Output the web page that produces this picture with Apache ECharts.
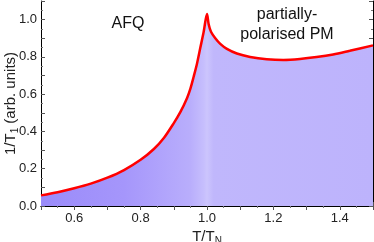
<!DOCTYPE html>
<html>
<head>
<meta charset="utf-8">
<script src="https://cdn.jsdelivr.net/npm/echarts@6/dist/echarts.min.js"></script>
<style>
html,body{margin:0;padding:0;background:#fff;}
#c{width:374px;height:242px;}
</style>
</head>
<body>
<div id="c"></div>
<script>
// T/T_N values and relaxation rate 1/T1 (arb. units)
const tRatio = [0.50,0.55,0.60,0.65,0.70,0.75,0.80,0.84,0.87,0.90,0.92,0.94,0.95,0.96,0.97,0.98,0.99,1.000,1.005,1.012,1.025,1.04,1.06,1.09,1.13,1.18,1.23,1.28,1.33,1.38,1.43,1.50];
const rate   = [0.057,0.074,0.095,0.120,0.152,0.193,0.248,0.306,0.365,0.445,0.505,0.58,0.63,0.695,0.765,0.850,0.935,1.030,0.975,0.935,0.900,0.870,0.843,0.818,0.800,0.788,0.784,0.789,0.799,0.813,0.833,0.862];
const xTickLabels = [0.6,0.8,1.0,1.2,1.4];
const yTickLabels = [0.0,0.2,0.4,0.6,0.8,1.0];
const regionLabels = ['AFQ','partially-','polarised PM'];

const font = 'Liberation Sans, Arial, sans-serif';
const chart = echarts.init(document.getElementById('c'), null, {renderer:'canvas'});
const axisCommon = {
  axisLine:{show:true,lineStyle:{color:'#000',width:1}},
  axisTick:{show:true,inside:true,length:4,lineStyle:{color:'#555'}},
  minorTick:{show:true,splitNumber:2,length:2,lineStyle:{color:'#777'}},
  splitLine:{show:false}
};
chart.setOption({
  animation:false,
  grid:{left:41,right:1,top:1,bottom:36,containLabel:false,outerBoundsMode:'none'},
  xAxis:[
    Object.assign({type:'value',min:0.5,max:1.5,interval:0.1,position:'bottom',
      name:'T/T{sub|N}',nameLocation:'middle',nameGap:21,nameMoveOverlap:false,
      nameTextStyle:{fontFamily:font,fontSize:15,color:'#222',rich:{sub:{fontFamily:font,fontSize:10,color:'#222',padding:[9,0,0,0]}}},
      axisLabel:{customValues:xTickLabels,fontFamily:font,fontSize:13,color:'#222',margin:6,formatter:v=>v.toFixed(1)}},axisCommon),
    Object.assign({type:'value',min:0.5,max:1.5,interval:0.1,position:'top',axisLabel:{show:false}},axisCommon)
  ],
  yAxis:[
    Object.assign({type:'value',min:0,max:1.1,interval:0.1,position:'left',
      name:'1/T{sub|1} (arb. units)',nameLocation:'middle',nameGap:21,nameMoveOverlap:false,
      nameTextStyle:{fontFamily:font,fontSize:15,color:'#222',rich:{sub:{fontFamily:font,fontSize:10,color:'#222',padding:[9,0,0,0]}}},
      axisLabel:{customValues:yTickLabels,fontFamily:font,fontSize:13,color:'#222',margin:4,formatter:v=>v.toFixed(1)}},axisCommon),
    Object.assign({type:'value',min:0,max:1.1,interval:0.1,position:'right',axisLabel:{show:false}},axisCommon)
  ],
  series:[{
    type:'line',
    data:tRatio.map((t,i)=>[t,rate[i]]),
    showSymbol:false,
    smooth:0.3,
    lineStyle:{color:'#ff0000',width:2.5},
    areaStyle:{opacity:1,color:new echarts.graphic.LinearGradient(0,0,1,0,[
      {offset:0,color:'#9a8bfa'},
      {offset:0.25,color:'#a596fb'},
      {offset:0.45,color:'#b9aefc'},
      {offset:0.49,color:'#c6befd'},
      {offset:0.5,color:'#ccc5fd'},
      {offset:0.52,color:'#c0b7fc'},
      {offset:1,color:'#bdb3fc'}
    ])},
    z:2
  }],
  graphic:[
    {type:'text',x:128,y:24,style:{text:regionLabels[0],font:'16px '+font,fill:'#111',align:'center',verticalAlign:'middle'}},
    {type:'text',x:287,y:15,style:{text:regionLabels[1],font:'16px '+font,fill:'#111',align:'center',verticalAlign:'middle'}},
    {type:'text',x:287,y:35,style:{text:regionLabels[2],font:'16px '+font,fill:'#111',align:'center',verticalAlign:'middle'}}
  ]
});
</script>
</body>
</html>
